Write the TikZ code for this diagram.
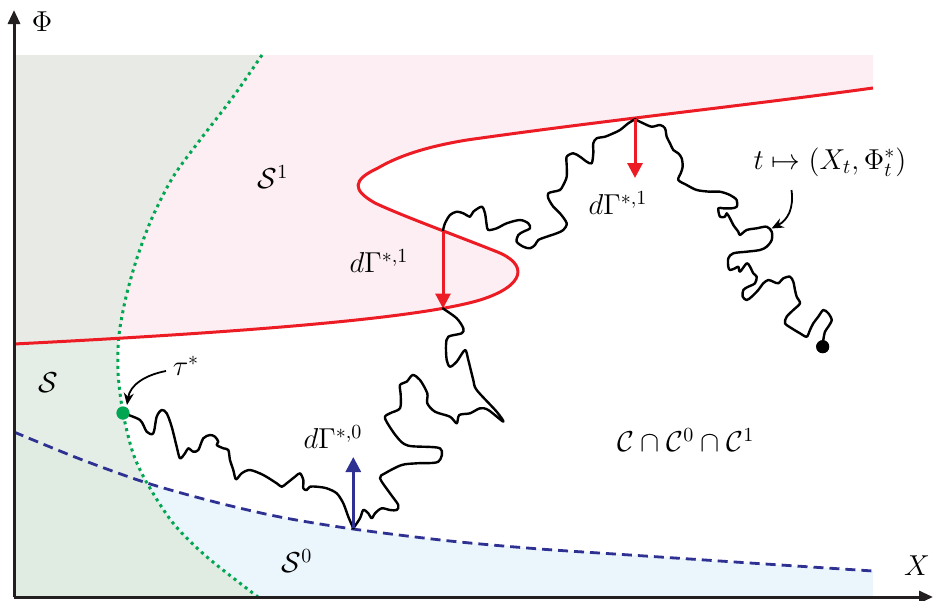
\documentclass[tikz,border=0pt]{standalone}
\usetikzlibrary{arrows.meta}
\definecolor{pinkfill}{HTML}{FDEEF3}
\definecolor{greyfill}{HTML}{E8EBE5}
\definecolor{sfill}{HTML}{E4EEE6}
\definecolor{bgfill}{HTML}{E0ECE2}
\definecolor{bluefill}{HTML}{EAF5FC}
\definecolor{redc}{HTML}{ED1C24}
\definecolor{bluec}{HTML}{2E3192}
\definecolor{greenc}{HTML}{00A651}
\definecolor{axisc}{HTML}{231F20}
\def\bluepts{(14,432) (80,459) (147,483) (215,502) (280,517) (353,529) (450,541) (540,549) (630,555) (750,563) (873,571)}
\def\greenpts{(262,55) (233,97) (200,140) (173,177) (152,218) (137,258) (126,297) (119,335) (118,372) (123,413) (133,453) (147,483) (173,523) (207,557) (258,597)}
\tikzset{
  redcurve/.style={insert path={.. controls (250,332) and (420,318) .. (480,300)
     .. controls (525,286) and (530,264) .. (495,251)
     .. controls (460,237) and (400,215) .. (375,203)
     .. controls (352,190) and (352,180) .. (378,168)
     .. controls (400,155) and (430,146) .. (467,140)
     .. controls (600,121) and (750,105) .. (873,88)}},
  lab/.style={font=\fontsize{14.5}{17}\selectfont, inner sep=0pt},
  axis/.style={line width=1.5pt, draw=axisc, -{Triangle[length=7pt,width=6pt]}},
  redarrow/.style={line width=1.5pt, draw=redc, -{Triangle[length=7.5pt,width=7.5pt]}},
  bluearrow/.style={line width=1.5pt, draw=bluec, -{Triangle[length=7.5pt,width=7.5pt]}},
  pointer/.style={line width=0.9pt, -{Stealth[length=6pt,width=5pt]}},
  path/.style={line width=1.2pt, line join=round, line cap=round},
  dotnode/.style={circle, inner sep=0pt, minimum size=6.5pt},
}
\begin{document}
\begin{tikzpicture}[x=0.5pt,y=-0.5pt]
\useasboundingbox (0,0) rectangle (934,601);
% fills
\fill[bluefill] plot[smooth] coordinates {\bluepts} -- (873,597) -- (14,597) -- cycle;
\fill[pinkfill] (14,344) [redcurve] -- (873,55) -- (14,55) -- cycle;
\begin{scope}
  \clip plot[smooth] coordinates {\greenpts} -- (14,597) -- (14,55) -- cycle;
  \fill[sfill] (14,55) rectangle (873,597);
  \fill[greyfill] (14,344) [redcurve] -- (873,55) -- (14,55) -- cycle;
  \fill[bgfill] plot[smooth] coordinates {\bluepts} -- (873,597) -- (14,597) -- cycle;
\end{scope}
% boundaries
\draw[greenc, line width=1.5pt, dash pattern=on 1.5pt off 2pt] plot[smooth] coordinates {\greenpts};
\draw[bluec, line width=1.4pt, dash pattern=on 5pt off 3pt] plot[smooth] coordinates {\bluepts};
\draw[redc, line width=1.5pt] (14,344) [redcurve];
% nodes on the path
\node[dotnode, fill=greenc] (start) at (123,413) {};
\node[dotnode, fill=black] (end) at (822.7,346.7) {};
\coordinate (b0) at (353.3,528.3);
\coordinate (b1) at (353.3,457);
\coordinate (r1a) at (443,230.5);
\coordinate (r1b) at (443,308.5);
\coordinate (r2a) at (635,119.3);
\coordinate (r2b) at (635,178);
% Brownian path
\draw[path, tension=0.5] plot[smooth] coordinates {(123.3,413.3) (140,420) (146.7,431.7) (153.3,433.3) (156.7,416.7) (161.7,410) (166.7,413.3) (171.7,426.7) (176.7,446.7) (180,458.3) (185,453.3) (188.3,448.3) (193.3,451.7) (198.3,450) (203.3,438.3) (210,435) (215,436.7) (218.3,441.7) (216.7,445) (223.3,448.3) (228.3,450) (230,460) (233.3,470) (236,479.3) (241.7,473.3) (250,470) (263.3,475) (276.7,483.3) (281.7,486.7) (286.7,483.3) (295,476.7) (300,473.3) (303.3,480) (303.3,488.3) (306.7,490) (310,486.7) (316.7,486.7) (326.7,488.3) (336.7,493.3) (343.3,503.3) (348.3,516.7) (353.3,528.3)};
\draw[path, tension=0.5] plot[smooth] coordinates {(353.3,528.3) (360,518.3) (363.3,510) (368.3,513.3) (371.7,518.3) (375,513.3) (381.7,508.3) (390,510) (396.7,510) (398.3,505) (390,493.3) (380,478.3) (385,473.3) (401.7,465) (416.7,463.3) (438.3,461.7) (440,448.3) (408.3,445.7) (396.7,436.7) (385,418.3) (390,413.3) (400,408.3) (400.7,395) (400,385) (406.7,381.7) (412.7,375) (420,380) (427.3,393.3) (427.3,403.3) (435,411.7) (450,416.7) (456.7,423.3) (459.3,415) (470,413.3) (480,408.3) (488.3,410) (503.3,421.7) (496.7,411.7) (476.7,390) (473.3,380) (468.3,360) (465,350) (456.7,361.7) (450,366.7) (446.7,360) (446,345) (448.3,336.7) (461.7,333.3) (463.3,328.3) (456.7,318.3) (443,308.5)};
\draw[path] (r1b) -- (r1a);
\draw[path, tension=0.5] plot[smooth] coordinates {(443,230.5) (445,223.3) (450,215) (456.7,211.7) (463.3,213.3) (470,216.7) (473.3,211.7) (481.7,206.7) (485,213.3) (486.7,225) (488.3,230) (496.7,228.3) (506.7,223.3) (520,220) (528.3,223.3) (530,228.3) (523.3,231.7) (518.3,235) (516.7,241.7) (523.3,246.7) (530,248.3) (535,245) (538.3,240) (546.7,236.7) (556.7,233.3) (563.3,230) (566.7,223.3) (560,213.3) (553.3,206.7) (548.3,198.3) (548.3,193.3) (553.3,191.7) (560,190) (563.3,185) (566.7,176.7) (566.7,165) (566.7,156.7) (573.3,153.3) (580,156.7) (586.7,161.7) (591.7,163.3) (593.3,153.3) (593.3,143.3) (596.7,138.3) (605,136.7) (613.3,133.3) (620,130) (628.3,123.3) (635,119.3)};
\draw[path, tension=0.5] plot[smooth] coordinates {(635,119.3) (643.3,123.3) (651.7,126.7) (660,125) (665,128.3) (666.7,136.7) (670,143.3) (673.3,150) (678.3,153.3) (681.7,158.3) (682.7,166.7) (680.7,173.3) (678.3,180) (686.7,185) (696.7,190) (710,191.7) (720,191.7) (730,195) (736.7,200) (736.7,206.7) (731.7,208.3) (723.3,208.3) (718.3,208.3) (720,216.7) (725,216.7) (726.7,213.3) (730,218.3) (733.3,225) (738.3,231.7) (740,235) (746.7,230) (756.7,228.3) (766.7,226.7) (771.7,231.7) (771.7,240) (766.7,246.7) (760,250) (746.7,251.7) (733.3,253.3) (728.3,258.3) (728.3,266.7) (730,270) (735,268.3) (738.3,266.7) (740,271.7) (746.7,263.3) (750,266.7) (753.3,273.3) (756.7,276.7) (755,283.3) (748.3,286.7) (743.3,290) (742.7,296.7) (746.7,300) (751.7,296.7) (758.3,290) (763.3,283.3) (768.3,280) (773.3,281.7) (778.3,283.3) (783.3,278.3) (790,276.7) (793.3,281.7) (795,290) (796.7,296.7) (800,303.3) (793.3,310) (786.7,316.7) (785,323.3) (791.7,328.3) (800,333.3) (806.7,336.7) (810,330) (813.3,323.3) (818.3,316.7) (823.3,310) (828.3,313.3) (831.7,320) (828.3,326.7) (825,331.7) (823.3,340) (822.7,346.7)};
% push arrows
\draw[redarrow] (r1a) -- (r1b);
\draw[redarrow] (r2a) -- (r2b);
\draw[bluearrow] (b0) -- (b1);
% dots on top
\node[dotnode, fill=greenc] at (start) {};
\node[dotnode, fill=black] at (end) {};
% axes
\coordinate (O) at (14,597);
\coordinate (ytop) at (14,10);
\coordinate (xend) at (933,597);
\draw[axis] (O) -- (ytop);
\draw[axis] (O) -- (xend);
% labels
\node[lab] (phi) at (42,22) {$\Phi$};
\node[lab] (xl) at (917,566) {$X$};
\node[lab] (s1) at (273,177) {$\mathcal{S}^1$};
\node[lab] (s) at (48,383) {$\mathcal{S}$};
\node[lab] (s0) at (297,561) {$\mathcal{S}^0$};
\node[lab] (tau) at (186,366) {$\tau^*$};
\node[lab] (dg1) at (379,261) {$d\Gamma^{*,1}$};
\node[lab] (dg2) at (618,203) {$d\Gamma^{*,1}$};
\node[lab] (dg0) at (333,437) {$d\Gamma^{*,0}$};
\node[lab] (cc) at (686,440) {$\mathcal{C}\cap\mathcal{C}^0\cap\mathcal{C}^1$};
\node[lab] (proc) at (830,162) {$t\mapsto(X_t,\Phi^*_t)$};
% pointers
\coordinate (p1) at (791.5,190);
\coordinate (p2) at (771.5,228.5);
\draw[pointer] (p1) .. controls (794,208) and (788,220) .. (p2);
\coordinate (q1) at (166,371);
\coordinate (q2) at (127,405);
\draw[pointer] (q1) .. controls (145,375) and (130,385) .. (q2);
\end{tikzpicture}
\end{document}
